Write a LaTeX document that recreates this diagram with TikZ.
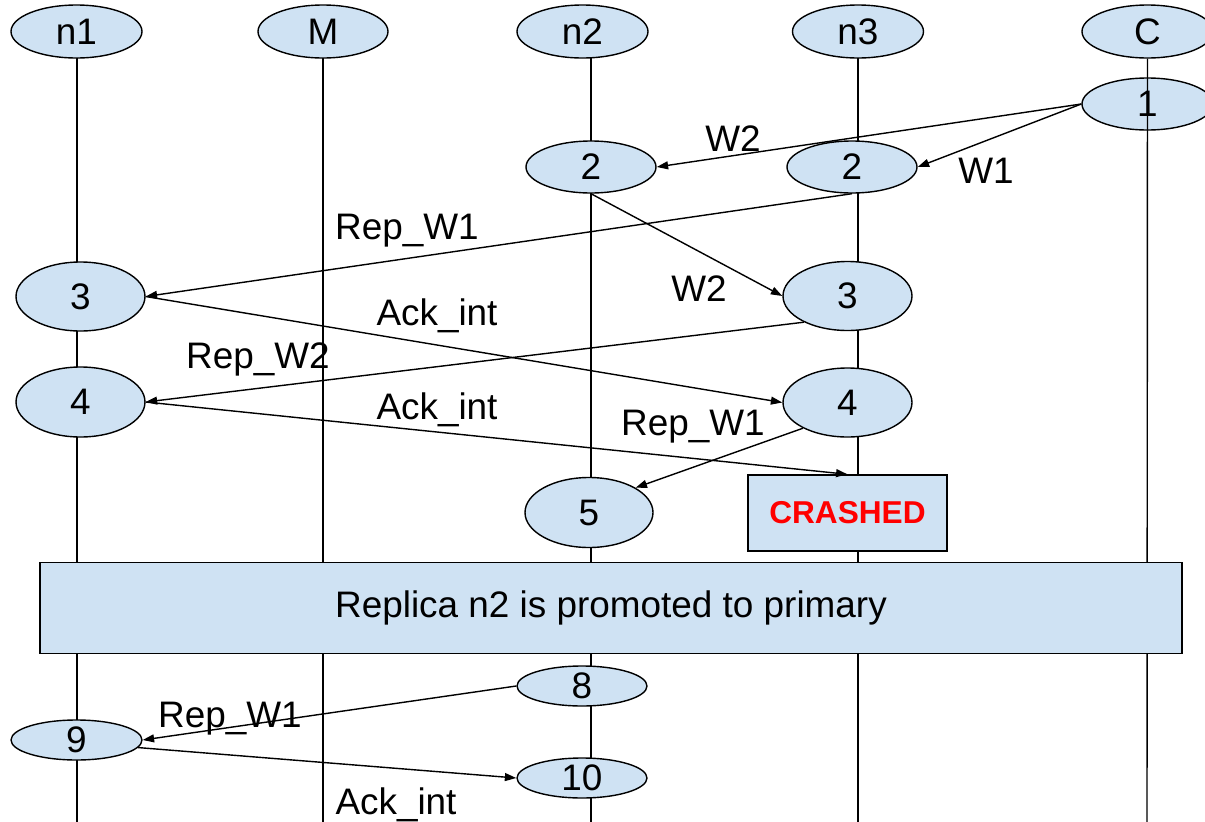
\documentclass[tikz,border=0pt]{standalone}
\usepackage{fontspec}
\setmainfont{Liberation Sans}
\usetikzlibrary{shapes.geometric,arrows.meta}
\definecolor{lb}{HTML}{CFE2F3}
\definecolor{crashred}{HTML}{FF0000}
\begin{document}
\begin{tikzpicture}[x=0.02cm,y=-0.02cm,
  ev/.style 2 args={ellipse,draw=black,line width=0.8pt,fill=lb,inner sep=0pt,
    minimum width=#1*0.02cm,minimum height=#2*0.02cm,font=\fontsize{21}{25}\selectfont},
  boxn/.style 2 args={rectangle,draw=black,line width=0.8pt,fill=lb,inner sep=0pt,
    minimum width=#1*0.02cm,minimum height=#2*0.02cm},
  lbl/.style={font=\fontsize{21}{25}\selectfont,anchor=base,inner sep=0pt},
  life/.style={line width=0.8pt},
  msg/.style={line width=0.8pt,-{Triangle[length=6.5pt,width=4.5pt]}}
]
\clip (0,0) rectangle (1205,822);
% lifeline end points
\coordinate (L1t) at (77,40);   \coordinate (L1b) at (77,830);
\coordinate (LMt) at (323,40);  \coordinate (LMb) at (323,830);
\coordinate (L2t) at (591,40);  \coordinate (L2b) at (591,830);
\coordinate (L3t) at (858,40);  \coordinate (L3b) at (858,830);
\coordinate (LCt) at (1147,40); \coordinate (LCb) at (1147,830);
\draw[life] (L1t) -- (L1b);
\draw[life] (LMt) -- (LMb);
\draw[life] (L2t) -- (L2b);
\draw[life] (L3t) -- (L3b);
% headers
\node[ev={131}{53}] (hn1) at (76.5,31.5) {n1};
\node[ev={130}{53}] (hM)  at (323,31.5) {M};
\node[ev={131}{53}] (hn2) at (582.5,31.5) {n2};
\node[ev={131}{53}] (hn3) at (858,31.5) {n3};
\node[ev={131}{53}] (hC)  at (1147.5,31.5) {C};
% events
\node[ev={131}{52}] (e1)  at (1147.5,104) {1};
\draw[life] (hC.south) -- (LCb);
\node[ev={130}{52}] (e2a) at (591,167) {2};
\node[ev={130}{52}] (e2b) at (852,167) {2};
\node[ev={129}{69}] (e3a) at (80.5,296.5) {3};
\node[ev={129}{69}] (e3b) at (847.5,296) {3};
\node[ev={129}{70}] (e4a) at (80.5,402) {4};
\node[ev={129}{69}] (e4b) at (847.5,402.5) {4};
\node[ev={128}{70}] (e5)  at (589,512.5) {5};
\node[boxn={199}{76}] (crash) at (847.5,513)
  {\fontsize{18}{21}\selectfont\bfseries\color{crashred}CRASHED};
\node[boxn={1142}{91},font=\fontsize{21}{25}\selectfont] (promo) at (611,608)
  {Replica n2 is promoted to primary};
\node[ev={130}{40}] (e8)  at (582,686) {8};
\node[ev={131}{40}] (e9)  at (76.5,740) {9};
\node[ev={130}{40}] (e10) at (582,778) {10};
% messages
\draw[msg] (e1.west) -- (e2a.east);
\draw[msg] (e1.west) -- (e2b.east);
\draw[msg] (e2b.south) -- (e3a.east);
\draw[msg] (e2a.south) -- (e3b.west);
\draw[msg] (e3a.east) -- (e4b.west);
\draw[msg] (e3b.211) -- (e4a.east);
\draw[msg] (e4a.east) -- (crash.north);
\draw[msg] (e4b.210) -- (e5.28);
\draw[msg] (e8.west) -- (e9.east);
\draw[msg] (e9.-7) -- (e10.west);
% labels
\node[lbl] (lW2a) at (733,151) {W2};
\node[lbl] (lW1)  at (986,183) {W1};
\node[lbl] (lR1a) at (407,239) {Rep\_W1};
\node[lbl] (lW2b) at (699,301) {W2};
\node[lbl] (lA1)  at (437,325) {Ack\_int};
\node[lbl] (lR2)  at (258,368) {Rep\_W2};
\node[lbl] (lA2)  at (437,419) {Ack\_int};
\node[lbl] (lR1b) at (693,435) {Rep\_W1};
\node[lbl] (lR1c) at (230,727) {Rep\_W1};
\node[lbl] (lA3)  at (396,814) {Ack\_int};
\end{tikzpicture}
\end{document}
